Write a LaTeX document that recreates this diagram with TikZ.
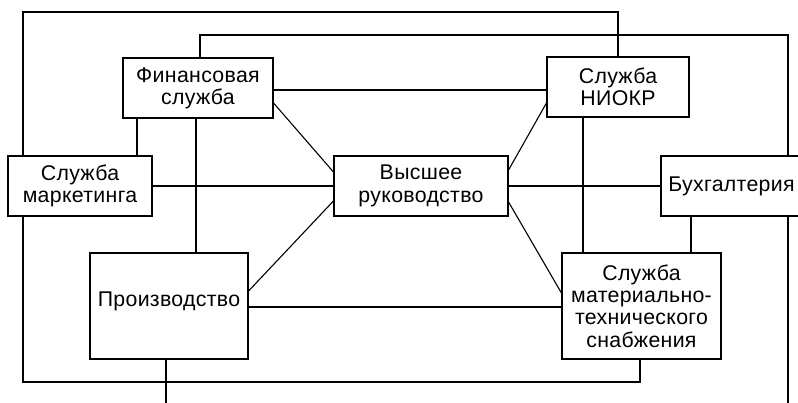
\documentclass[tikz,border=0pt]{standalone}
\usepackage{fontspec}
\setmainfont{Liberation Sans}[LetterSpace=1.5]
\begin{document}
\begin{tikzpicture}[x=1pt,y=-1pt,
  unit/.style={draw, line width=1.1pt, fill=white, inner sep=0pt, align=center,
    font=\fontsize{21.3}{22.3}\selectfont},
  link/.style={line width=1.1pt, line cap=rect}]
\useasboundingbox (0,0) rectangle (798,402);
\clip (0,0) rectangle (798,402);

% departments
\node[unit, minimum width=150, minimum height=60] (fin)   at (198,88)  {Финансовая\\служба};
\node[unit, minimum width=142, minimum height=60] (niokr) at (618,87)  {Служба\\НИОКР};
\node[unit, minimum width=144, minimum height=60] (mkt)   at (80,186)  {Служба\\маркетинга};
\node[unit, minimum width=174, minimum height=60] (top)   at (421,186) {Высшее\\руководство};
\node[unit, minimum width=146, minimum height=60, text width=130] (buh) at (734,186) {\hspace*{-5pt}Бухгалтерия};
\node[unit, minimum width=158, minimum height=106] (prod) at (169,306) {\raisebox{0pt}[0pt][0pt]{Производство}};
\node[unit, minimum width=159, minimum height=106] (snab) at (641.5,306)
  {Служба\\материально-\\технического\\снабжения};

% route corners and free ends
\coordinate (r1) at (23,12);
\coordinate (r2) at (200,35);
\coordinate (r3) at (23,382);
\coordinate (e1) at (788,410);
\coordinate (e2) at (166,410);

% outer loops
\draw[link] ([xshift=-57pt]mkt.north) -- (r1) -| (niokr.north);
\draw[link] ([xshift=2pt]fin.north) -- (r2) -| ([xshift=54pt]buh.north);
\draw[link] ([xshift=-57pt]mkt.south) -- (r3) -| ([xshift=-1.5pt]snab.south);

% links between departments
\draw[link] ([yshift=-2pt]fin.east) -- ([yshift=-2pt]fin.east -| niokr.west);
\draw[link] ([yshift=-15pt]fin.east) -- ([yshift=14pt]top.west);
\draw[link] ([xshift=-61pt]fin.south) -- ([xshift=-61pt]fin.south |- mkt.north);
\draw[link] ([xshift=-2pt]fin.south) -- ([xshift=-2pt]fin.south |- prod.north);
\draw[link] (mkt.east) -- (top.west);
\draw[link] ([yshift=16pt]top.east) -- ([yshift=-16pt]niokr.west);
\draw[link] ([xshift=-35pt]niokr.south) -- ([xshift=-35pt]niokr.south |- snab.north);
\draw[link] (top.east) -- (buh.west);
\draw[link] ([yshift=-15pt]top.west) -- ([yshift=15pt]prod.east);
\draw[link] ([yshift=-16pt]top.east) -- ([yshift=13pt]snab.west);
\draw[link] ([yshift=-1pt]prod.east) -- ([yshift=-1pt]prod.east -| snab.west);
\draw[link] ([xshift=-43pt]buh.south) -- ([xshift=-43pt]buh.south |- snab.north);
\draw[link] ([xshift=54pt]buh.south) -- (e1);
\draw[link] ([xshift=-3pt]prod.south) -- (e2);
\end{tikzpicture}
\end{document}
